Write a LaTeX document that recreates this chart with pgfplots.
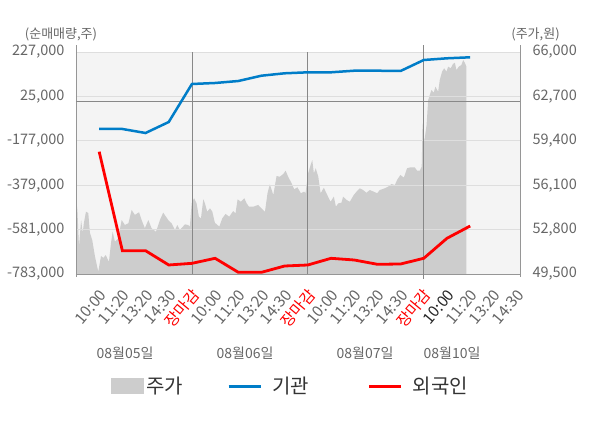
\documentclass[border=0pt]{standalone}
\usepackage{fontspec}
\setmainfont{Noto Sans CJK KR}
\usepackage{pgfplots}
\pgfplotsset{compat=1.18}
\definecolor{bggray}{RGB}{244,244,244}
\definecolor{pricegray}{RGB}{205,205,205}
\definecolor{gridgray}{RGB}{222,222,222}
\definecolor{sepgray}{RGB}{136,136,136}
\definecolor{axgray}{RGB}{150,150,150}
\definecolor{ticktext}{RGB}{102,102,102}
\definecolor{legtext}{RGB}{51,51,51}
\definecolor{instblue}{RGB}{0,125,200}
\definecolor{forred}{RGB}{255,0,0}
\begin{document}
\begin{tikzpicture}
\path[use as bounding box] (0,0) rectangle (600pt,428pt);
% ---------- price (right axis) ----------
\begin{axis}[
  at={(76pt,154pt)}, anchor=south west, width=444pt, height=222pt, scale only axis,
  xmin=0, xmax=19.15, ymin=49500, ymax=66000,
  axis x line=none, axis y line*=right,
  y axis line style={draw=axgray, line width=0.8pt, shorten >=-7pt, shorten <=-3pt},
  axis background/.style={fill=bggray},
  scaled y ticks=false,
  ytick={49500,52800,56100,59400,62700,66000},
  yticklabels={{49,500},{52,800},{56,100},{59,400},{62,700},{66,000}},
  major tick length=0pt,
  yticklabel style={font=\fontsize{14.5pt}{17pt}\selectfont, text=ticktext, xshift=9pt},
]
\addplot[fill=pricegray, draw=none] coordinates {
(0,49500) (0.00,55130) (0.06,54260) (0.13,51530) (0.22,53510) (0.29,52550) (0.34,53290)
(0.43,54130) (0.53,54030) (0.60,52550) (0.70,52030) (0.82,50790) (0.96,49670) (1.08,50840)
(1.18,50690) (1.28,50910) (1.42,50410) (1.51,51800) (1.58,52640) (1.68,51900) (1.82,52150)
(1.97,53510) (2.11,53140) (2.26,53270) (2.40,54260) (2.54,53890) (2.72,54090) (2.83,53510)
(2.97,52900) (3.12,53510) (3.26,52900) (3.45,52640) (3.62,53510) (3.76,54060) (3.98,53510)
(4.12,53270) (4.27,52770) (4.37,53140) (4.48,52770) (4.70,53190) (4.84,53140) (4.91,53020)
(4.99,54750) (5.09,55130) (5.20,54750) (5.30,53760) (5.39,53640) (5.49,55050) (5.56,54750)
(5.66,54130) (5.78,54380) (5.88,54130) (5.99,53310) (6.18,53020) (6.31,53640) (6.45,53960)
(6.61,53760) (6.78,54180) (6.88,54010) (6.97,55050) (7.11,54870) (7.26,55130) (7.36,54750)
(7.46,54500) (7.64,54500) (7.86,54630) (8.00,54380) (8.15,54130) (8.26,55500) (8.36,56170)
(8.51,55370) (8.65,56780) (8.79,56730) (8.94,56930) (9.04,57180) (9.15,56730) (9.30,56240)
(9.41,55800) (9.55,55940) (9.70,55500) (9.84,55620) (9.90,55500) (10.01,56980) (10.12,57600)
(10.19,57970) (10.26,56980) (10.34,57360) (10.45,56730) (10.55,55500) (10.69,55910) (10.80,55500)
(10.98,54870) (11.12,55250) (11.21,54500) (11.31,54750) (11.45,54800) (11.52,55250) (11.67,55000)
(11.81,54870) (11.98,55370) (12.10,55620) (12.24,55870) (12.38,55740) (12.53,55540) (12.67,55740)
(12.84,55620) (12.99,55500) (13.10,55740) (13.32,55870) (13.46,55990) (13.61,56190) (13.75,56110)
(13.85,56490) (13.99,56860) (14.14,56660) (14.28,57360) (14.43,57430) (14.61,57430) (14.71,57180)
(14.83,57180) (14.91,57480) (14.95,60700) (15.02,59330) (15.12,60570) (15.19,62430) (15.33,63180)
(15.43,62970) (15.50,63420) (15.62,63050) (15.69,63920) (15.79,64540) (15.88,64790) (15.98,64540)
(16.05,64910) (16.16,64790) (16.26,65110) (16.34,65200) (16.41,64660) (16.51,64910) (16.62,65030)
(16.70,65400) (16.77,65200) (16.84,64910) (16.84,49500)
} \closedcycle;
\end{axis}
% ---------- net buying (left axis) ----------
\begin{axis}[
  at={(76pt,154pt)}, anchor=south west, width=444pt, height=222pt, scale only axis,
  xmin=0, xmax=19.15, ymin=-783000, ymax=227000,
  axis x line*=bottom, axis y line*=left,
  x axis line style={draw=axgray, line width=0.8pt},
  y axis line style={draw=axgray, line width=0.8pt, shorten >=-7pt, shorten <=-3pt},
  clip=false,
  scaled y ticks=false,
  ytick={-783000,-581000,-379000,-177000,25000,227000},
  yticklabels={{-783,000},{-581,000},{-379,000},{-177,000},{25,000},{227,000}},
  ymajorgrids, major grid style={draw=gridgray, line width=0.8pt},
  xtick={1,...,19},
  xticklabels={10:00,11:20,13:20,14:30,\textcolor{forred}{장마감},
               10:00,11:20,13:20,14:30,\textcolor{forred}{장마감},
               10:00,11:20,13:20,14:30,\textcolor{forred}{장마감},
               \textcolor{black!85}{10:00},11:20,13:20,14:30},
  major tick length=0pt,
  xticklabel style={font=\fontsize{15.5pt}{18pt}\selectfont, text=ticktext, inner sep=0pt,
                    xshift=4pt, yshift=-18pt, rotate=50, anchor=east},
  yticklabel style={font=\fontsize{14.5pt}{17pt}\selectfont, text=ticktext, xshift=-8pt},
  extra x ticks={5,10,15}, extra x tick labels={},
  extra x tick style={grid=major, major grid style={draw=sepgray, line width=0.8pt, shorten >=-7pt, shorten <=-5pt}},
  extra y ticks={0}, extra y tick labels={},
  extra y tick style={grid=major, major grid style={draw=sepgray, line width=0.8pt}},
  legend columns=3,
  legend style={at={(0.4809,-0.505)}, anchor=center, draw=none, fill=none,
    font=\fontsize{20pt}{22pt}\selectfont, text=legtext, nodes={inner sep=0pt},
    /tikz/every even column/.append style={column sep=0pt},
    /tikz/every odd column/.append style={column sep=0pt}},
]
\addlegendimage{legend image code/.code={\fill[pricegray] (0pt,-7.5pt) rectangle (32pt,7.5pt);}}
\addlegendentry{\rule{3pt}{0pt}주가\rule{44pt}{0pt}}
\addplot[instblue, line width=2.5pt, legend image code/.code={\draw[instblue, line width=3pt] (0pt,0pt) -- (32pt,0pt);}] coordinates {
(1,-123300) (2,-123300) (3,-141500) (4,-91500) (5,81400) (6,86000) (7,95000) (8,119200)
(9,130100) (10,134600) (11,134600) (12,141900) (13,141900) (14,140600) (15,190600) (16,198300) (17,202900)
};
\addlegendentry{\rule{10pt}{0pt}기관\rule{59pt}{0pt}}
\addplot[forred, line width=2.8pt, legend image code/.code={\draw[forred, line width=3pt] (0pt,0pt) -- (32pt,0pt);}] coordinates {
(1,-226600) (2,-677000) (3,-677000) (4,-742000) (5,-734500) (6,-711600) (7,-775300) (8,-775300)
(9,-746600) (10,-742000) (11,-711600) (12,-719300) (13,-738900) (14,-737500) (15,-711600) (16,-620600) (17,-564600)
};
\addlegendentry{\rule{10pt}{0pt}외국인}
\end{axis}
\node[font=\fontsize{13pt}{16pt}\selectfont, text=ticktext] at (61pt,394pt) {(순매매량,주)};
\node[font=\fontsize{13pt}{16pt}\selectfont, text=ticktext] at (535.5pt,394pt) {(주가,원)};
\node[font=\fontsize{14pt}{16pt}\selectfont, text=ticktext] at (125pt,75pt) {08월05일};
\node[font=\fontsize{14pt}{16pt}\selectfont, text=ticktext] at (245pt,75pt) {08월06일};
\node[font=\fontsize{14pt}{16pt}\selectfont, text=ticktext] at (365pt,75pt) {08월07일};
\node[font=\fontsize{14pt}{16pt}\selectfont, text=ticktext] at (452pt,75pt) {08월10일};
\end{tikzpicture}
\end{document}
